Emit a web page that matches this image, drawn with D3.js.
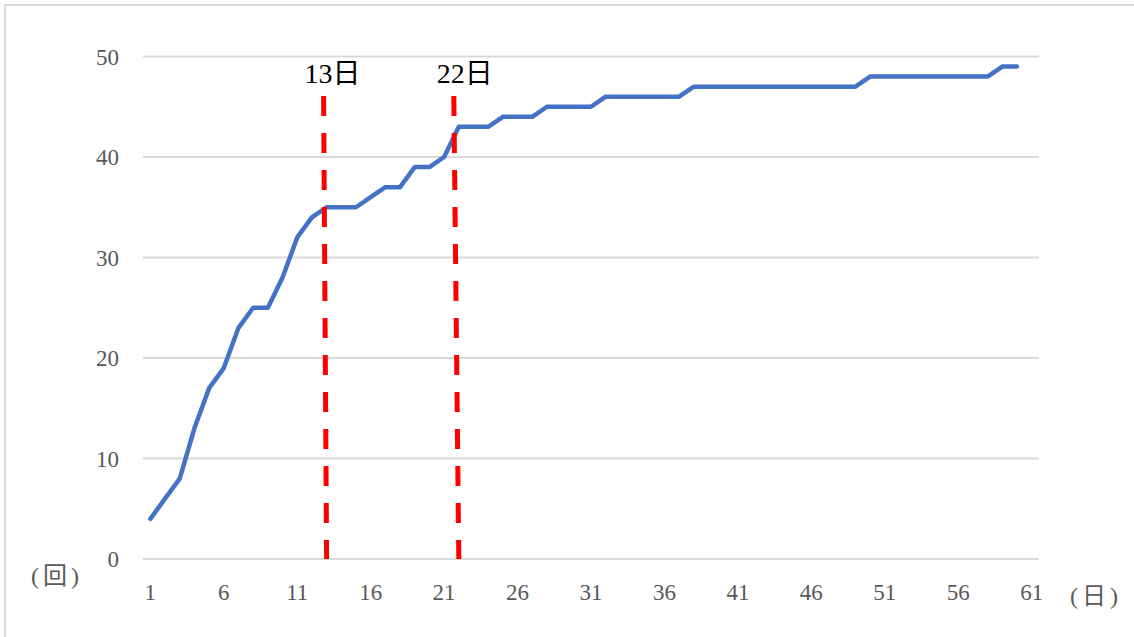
<!DOCTYPE html>
<html lang="ja">
	<head>
		<meta charset="utf-8">
		<title>D3: cumulative count line chart</title>
		<script src="https://d3js.org/d3.v7.min.js"></script>
		<style type="text/css">
			body { margin: 0; background: #fff; }
			svg { display: block; }
		</style>
	</head>
	<body>
		<script type="text/javascript">
			//Data
			var days = d3.range(1, 62);   // category axis 1..61
			var counts = [ 4, 6, 8, 13, 17, 19, 23, 25, 25, 28,
						   32, 34, 35, 35, 35, 36, 37, 37, 39, 39,
						   40, 43, 43, 43, 44, 44, 44, 45, 45, 45,
						   45, 46, 46, 46, 46, 46, 46, 47, 47, 47,
						   47, 47, 47, 47, 47, 47, 47, 47, 47, 48,
						   48, 48, 48, 48, 48, 48, 48, 48, 49, 49 ];
			var markerDays = [13, 22];
			var markerLabels = ["13日", "22日"];
			var xTicks = [1, 6, 11, 16, 21, 26, 31, 36, 41, 46, 51, 56, 61];
			var yTicks = [0, 10, 20, 30, 40, 50];

			//Width and height
			var width = 1134;
			var height = 637;
			var plot = { left: 143, right: 1039, top: 56.5, bottom: 559 };
			var serif = "'Liberation Serif', 'Noto Sans CJK JP', serif";

			var x = d3.scalePoint()
				.domain(days)
				.range([plot.left, plot.right])
				.padding(0.5);

			var y = d3.scaleLinear()
				.domain([0, 50])
				.range([plot.bottom, plot.top]);

			var svg = d3.select("body")
				.append("svg")
				.attr("width", width)
				.attr("height", height);

			//Outer frame
			svg.append("rect")
				.attr("x", 5)
				.attr("y", 5)
				.attr("width", width + 20)
				.attr("height", height + 20)
				.attr("fill", "none")
				.attr("stroke", "#d9d9d9")
				.attr("stroke-width", 2);

			//Gridlines
			svg.append("g")
				.selectAll("line")
				.data(yTicks)
				.enter()
				.append("line")
				.attr("x1", plot.left)
				.attr("x2", plot.right)
				.attr("y1", function(d) { return y(d); })
				.attr("y2", function(d) { return y(d); })
				.attr("stroke", "#d9d9d9")
				.attr("stroke-width", 2);

			//Y tick labels
			svg.append("g")
				.selectAll("text")
				.data(yTicks)
				.enter()
				.append("text")
				.text(function(d) { return d; })
				.attr("x", 119)
				.attr("y", function(d) { return y(d); })
				.attr("dy", "0.35em")
				.attr("text-anchor", "end")
				.attr("font-family", serif)
				.attr("font-size", "23px")
				.attr("fill", "#595959");

			//X tick labels
			svg.append("g")
				.selectAll("text")
				.data(xTicks)
				.enter()
				.append("text")
				.text(function(d) { return d; })
				.attr("x", function(d) { return x(d); })
				.attr("y", 600)
				.attr("text-anchor", "middle")
				.attr("font-family", serif)
				.attr("font-size", "23px")
				.attr("fill", "#595959");

			//Axis unit labels
			svg.append("text")
				.text("(回)")
				.attr("x", 57)
				.attr("y", 584)
				.attr("text-anchor", "middle")
				.attr("letter-spacing", "4px")
				.attr("font-family", serif)
				.attr("font-size", "24px")
				.attr("fill", "#595959");

			svg.append("text")
				.text("(日)")
				.attr("x", 1096)
				.attr("y", 604)
				.attr("text-anchor", "middle")
				.attr("letter-spacing", "4px")
				.attr("font-family", serif)
				.attr("font-size", "24px")
				.attr("fill", "#595959");

			//Main line
			var line = d3.line()
				.x(function(d, i) { return x(days[i]); })
				.y(function(d) { return y(d); });

			svg.append("path")
				.datum(counts)
				.attr("d", line)
				.attr("fill", "none")
				.attr("stroke", "#4472C4")
				.attr("stroke-width", 4.5)
				.attr("stroke-linejoin", "round")
				.attr("stroke-linecap", "round");

			//Red dashed markers (hand drawn, leaning a little)
			var lean = [3, 5];
			svg.append("g")
				.selectAll("line")
				.data(markerDays)
				.enter()
				.append("line")
				.attr("x1", function(d, i) { return x(d) - lean[i]; })
				.attr("x2", function(d) { return x(d); })
				.attr("y1", 96)
				.attr("y2", plot.bottom)
				.attr("stroke", "#FF0000")
				.attr("stroke-width", 5)
				.attr("stroke-dasharray", "20,17");

			svg.append("g")
				.selectAll("text")
				.data(markerDays)
				.enter()
				.append("text")
				.text(function(d, i) { return markerLabels[i]; })
				.attr("x", function(d) { return x(d) + 6; })
				.attr("y", 83)
				.attr("text-anchor", "middle")
				.attr("font-family", serif)
				.attr("font-size", "28px")
				.attr("fill", "#000");
		</script>
	</body>
</html>
